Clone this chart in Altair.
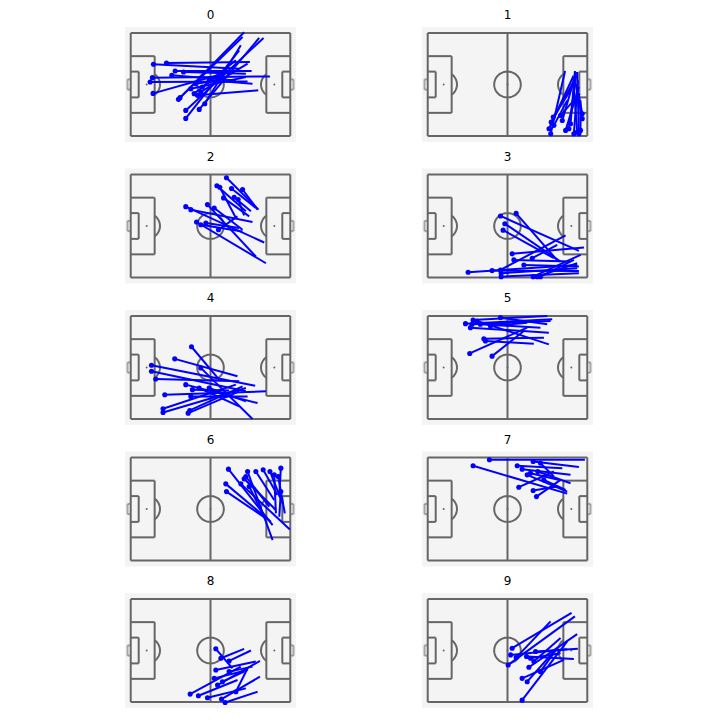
import math
import altair as alt
import pandas as pd

# Passes per cluster: (start_x, start_y, end_x, end_y) in StatsBomb pitch units (120 x 80, y down)
c0_passes = [
    (17.1, 24.3, 81.6, 27.7), (26.9, 23.3, 89.6, 22.5), (16.3, 34.7, 104.7, 33.7),
    (14.6, 38.1, 87.9, 37.6), (16.8, 46.9, 74.0, 30.3), (33.4, 29.5, 90.9, 29.5),
    (39.7, 30.3, 86.6, 31.6), (30.9, 32.9, 79.1, 36.8), (35.9, 51.5, 85.3, -0.5),
    (37.1, 50.2, 84.1, 3.1), (41.4, 60.1, 99.9, 3.9), (51.5, 59.3, 96.6, 3.9),
    (55.7, 54.9, 82.8, 9.6), (41.4, 66.3, 81.6, 13.5), (50.2, 48.4, 95.9, 44.5),
    (52.7, 45.8, 87.9, 23.8), (45.2, 43.3, 86.6, 34.2), (48.9, 39.4, 66.5, 36.8),
    (53.9, 41.9, 79.1, 21.2), (59.0, 36.8, 91.6, 39.4), (47.7, 47.1, 74.0, 26.4),
]
c1_passes = [
    (92.5, 78.2, 103.3, 29.5), (91.2, 74.3, 109.7, 33.2), (92.9, 69.2, 112.4, 32.9),
    (94.4, 65.3, 107.4, 44.5), (101.2, 67.9, 111.7, 30.3), (103.7, 75.6, 113.7, 41.9),
    (107.4, 70.5, 110.7, 29.5), (109.9, 78.2, 112.9, 36.8), (112.4, 76.9, 109.4, 34.2),
    (114.9, 75.6, 114.9, 52.3), (116.2, 66.5, 111.2, 39.4), (116.2, 62.7, 113.7, 48.4),
    (113.7, 78.2, 112.4, 30.3), (94.9, 71.7, 104.9, 52.3), (99.9, 64.0, 114.4, 47.1),
    (106.2, 74.3, 111.2, 35.5),
]
c2_passes = [
    (72.0, 2.6, 96.1, 27.3), (64.8, 8.8, 86.6, 28.6), (67.0, 9.9, 79.1, 33.8),
    (75.8, 10.9, 94.1, 26.0), (84.1, 11.7, 95.4, 27.3), (69.8, 18.2, 89.1, 32.5),
    (77.8, 17.7, 90.4, 28.6), (80.8, 19.5, 85.3, 31.7), (57.7, 23.4, 94.1, 63.7),
    (41.4, 25.0, 100.4, 52.8), (45.2, 27.3, 91.6, 36.9), (49.5, 36.9, 101.7, 68.9),
    (52.7, 39.0, 84.1, 44.2), (66.0, 42.9, 80.3, 32.5), (62.8, 26.0, 84.1, 42.9),
    (56.5, 37.7, 81.6, 41.6),
]
c3_passes = [
    (66.5, 30.2, 97.4, 66.6), (54.7, 32.2, 113.7, 59.3), (58.0, 38.2, 99.9, 67.6),
    (56.7, 43.2, 94.9, 65.0), (63.5, 61.6, 117.5, 56.7), (30.4, 75.9, 112.4, 70.2),
    (48.4, 74.6, 113.7, 74.9), (54.7, 74.1, 103.7, 47.3), (55.2, 76.7, 112.4, 72.8),
    (55.2, 79.3, 113.7, 76.7), (79.3, 79.3, 115.0, 62.4), (82.3, 79.3, 112.4, 68.9),
    (84.8, 79.3, 109.9, 66.3), (78.6, 65.0, 97.4, 54.6), (64.8, 66.3, 107.4, 67.6),
    (72.3, 70.2, 113.7, 71.5),
]
c4_passes = [
    (45.7, 23.9, 66.5, 49.4), (33.1, 33.3, 80.3, 46.8), (15.6, 38.2, 93.6, 54.1),
    (15.6, 42.9, 86.6, 58.5), (18.8, 48.9, 81.6, 50.7), (41.4, 53.3, 95.4, 67.6),
    (45.2, 62.4, 87.9, 62.4), (25.6, 61.1, 101.7, 58.5), (24.3, 72.0, 79.1, 53.3),
    (24.3, 74.9, 86.6, 55.9), (43.2, 75.4, 81.6, 58.5), (44.4, 73.3, 84.1, 54.6),
    (52.7, 40.3, 91.6, 80.0), (51.5, 55.9, 81.6, 70.2), (59.0, 55.9, 86.6, 66.3),
    (46.4, 57.2, 74.0, 57.9),
]
c5_passes = [
    (28.4, 6.0, 93.6, 2.6), (32.1, 9.1, 91.1, 13.0), (34.1, 3.1, 89.9, 0.0),
    (33.4, 6.5, 92.4, 3.9), (42.2, 17.7, 87.4, 16.9), (43.4, 19.5, 79.8, 21.6),
    (31.6, 29.1, 74.8, 9.1), (48.4, 31.2, 72.3, 11.7), (54.7, 1.3, 89.9, 6.5),
    (37.1, 3.9, 91.1, 22.1), (39.6, 6.5, 84.8, 9.1), (47.2, 7.8, 74.8, 5.2),
]
c6_passes = [
    (73.5, 9.1, 106.7, 52.5), (71.5, 20.5, 105.4, 49.9), (72.0, 26.5, 101.7, 47.3),
    (82.8, 20.5, 119.7, 55.9), (87.9, 10.9, 106.7, 64.2), (86.6, 14.8, 104.2, 38.2),
    (85.3, 16.6, 109.2, 40.8), (94.1, 10.9, 107.9, 33.0), (99.6, 9.6, 110.4, 29.1),
    (104.7, 10.9, 114.2, 35.6), (107.9, 13.5, 109.2, 43.4), (110.9, 14.8, 115.9, 43.4),
    (112.9, 8.3, 111.7, 30.4), (112.9, 26.5, 111.7, 46.0), (89.1, 22.6, 99.1, 43.4),
]
c7_passes = [
    (34.1, 6.5, 104.9, 28.1), (46.4, 1.8, 118.2, 1.8), (79.3, 3.1, 113.7, 7.5),
    (67.3, 6.5, 101.2, 8.3), (71.0, 9.1, 107.4, 13.5), (77.3, 12.2, 99.9, 17.7),
    (82.8, 10.9, 107.4, 20.0), (87.3, 17.4, 103.7, 25.2), (68.5, 23.1, 94.9, 10.9),
    (79.3, 25.7, 97.4, 22.6), (81.8, 30.4, 99.9, 17.4), (74.8, 13.5, 104.9, 26.5),
    (84.8, 4.4, 94.9, 14.8),
]
c8_passes = [
    (64.0, 38.7, 76.5, 53.8), (67.8, 46.0, 85.3, 38.7), (74.0, 48.1, 90.4, 40.0),
    (64.0, 55.1, 94.1, 48.6), (62.8, 61.6, 87.9, 55.1), (65.3, 66.8, 97.2, 48.1),
    (44.7, 73.8, 82.8, 52.5), (50.9, 75.1, 80.3, 62.9), (57.7, 76.7, 86.6, 69.4),
    (68.3, 77.7, 97.2, 60.3), (71.0, 80.3, 95.4, 72.0), (79.1, 72.0, 87.9, 53.8),
    (74.0, 56.4, 91.6, 52.5), (69.0, 64.2, 85.3, 56.4),
]
c9_passes = [
    (63.5, 38.2, 108.2, 10.9), (62.3, 43.4, 104.9, 39.0), (66.5, 45.5, 92.4, 17.4),
    (60.5, 51.2, 110.7, 13.5), (74.3, 44.7, 109.9, 46.5), (76.1, 53.0, 112.4, 27.3),
    (79.8, 48.6, 99.9, 30.4), (71.0, 61.6, 102.4, 47.3), (74.8, 64.2, 94.9, 40.8),
    (71.0, 78.5, 104.9, 33.0), (81.1, 40.8, 112.9, 38.7), (84.8, 56.4, 97.4, 38.2),
    (77.3, 46.0, 99.9, 42.1),
]
cluster_labels = ["0", "1", "2", "3", "4", "5", "6", "7", "8", "9"]
clusters = [c0_passes, c1_passes, c2_passes, c3_passes, c4_passes,
            c5_passes, c6_passes, c7_passes, c8_passes, c9_passes]

# Pitch geometry (StatsBomb dimensions)
L, W = 120, 80
LINE = "#666666"
BG = "#f4f4f4"
PASS = "#0000ff"

segments = [
    (0, 0, L, 0), (0, W, L, W), (0, 0, 0, W), (L, 0, L, W), (L / 2, 0, L / 2, W),
    (0, 18, 18, 18), (18, 18, 18, 62), (0, 62, 18, 62),
    (L, 18, L - 18, 18), (L - 18, 18, L - 18, 62), (L, 62, L - 18, 62),
    (0, 30, 6, 30), (6, 30, 6, 50), (0, 50, 6, 50),
    (L, 30, L - 6, 30), (L - 6, 30, L - 6, 50), (L, 50, L - 6, 50),
]
seg_df = pd.DataFrame(segments, columns=["x", "y", "x2", "y2"])

goals = [
    (0, 36, -2.4, 36), (-2.4, 36, -2.4, 44), (-2.4, 44, 0, 44),
    (L, 36, L + 2.4, 36), (L + 2.4, 36, L + 2.4, 44), (L + 2.4, 44, L, 44),
]
goal_df = pd.DataFrame(goals, columns=["x", "y", "x2", "y2"])

arc_rows = []
n = 72
for i in range(n + 1):
    t = 2 * math.pi * i / n
    arc_rows.append({"arc": "c", "i": i, "x": L / 2 + 10 * math.cos(t), "y": W / 2 + 10 * math.sin(t)})
a0 = math.acos(0.6)
m = 30
for i in range(m + 1):
    t = -a0 + 2 * a0 * i / m
    arc_rows.append({"arc": "l", "i": i, "x": 12 + 10 * math.cos(t), "y": W / 2 + 10 * math.sin(t)})
    arc_rows.append({"arc": "r", "i": i, "x": L - 12 - 10 * math.cos(t), "y": W / 2 + 10 * math.sin(t)})
arc_df = pd.DataFrame(arc_rows)
spot_df = pd.DataFrame({"x": [12, L - 12, L / 2], "y": [W / 2, W / 2, W / 2]})

xs = alt.Scale(domain=[-4.3, L + 4.3], nice=False, zero=False)
ys = alt.Scale(domain=[-4.6, W + 4.6], nice=False, zero=False, reverse=True)


def panel(label, passes):
    pdf = pd.DataFrame(passes, columns=["x", "y", "x2", "y2"])
    seg = alt.Chart(seg_df).mark_rule(color=LINE, strokeWidth=2).encode(
        x=alt.X("x:Q", scale=xs, axis=None), y=alt.Y("y:Q", scale=ys, axis=None),
        x2="x2:Q", y2="y2:Q")
    goal = alt.Chart(goal_df).mark_rule(color=LINE, strokeWidth=2, opacity=0.55).encode(
        x=alt.X("x:Q", scale=xs, axis=None), y=alt.Y("y:Q", scale=ys, axis=None),
        x2="x2:Q", y2="y2:Q")
    arcs = alt.Chart(arc_df).mark_line(color=LINE, strokeWidth=2).encode(
        x=alt.X("x:Q", scale=xs, axis=None), y=alt.Y("y:Q", scale=ys, axis=None),
        detail="arc:N", order="i:Q")
    spots = alt.Chart(spot_df).mark_circle(color=LINE, size=4, opacity=1).encode(
        x=alt.X("x:Q", scale=xs, axis=None), y=alt.Y("y:Q", scale=ys, axis=None))
    lines = alt.Chart(pdf).mark_rule(color=PASS, strokeWidth=2).encode(
        x=alt.X("x:Q", scale=xs, axis=None), y=alt.Y("y:Q", scale=ys, axis=None),
        x2="x2:Q", y2="y2:Q")
    dots = alt.Chart(pdf).mark_circle(color=PASS, size=26, opacity=1).encode(
        x=alt.X("x:Q", scale=xs, axis=None), y=alt.Y("y:Q", scale=ys, axis=None))
    return alt.layer(seg, goal, arcs, spots, lines, dots).properties(
        width=171, height=115,
        title=alt.TitleParams(label, fontSize=12, fontWeight="normal", font="DejaVu Sans",
                              color="black", offset=5, anchor="middle"))


charts = [panel(lbl, p) for lbl, p in zip(cluster_labels, clusters)]
chart = alt.concat(*charts, columns=2, spacing={"column": 126, "row": 8.5}).properties(
    padding={"left": 117, "top": 1, "right": 5, "bottom": 5},
    background="white",
).configure_view(fill=BG, stroke=None)

chart.save("out.html", embed_options={"renderer": "svg", "actions": False})
